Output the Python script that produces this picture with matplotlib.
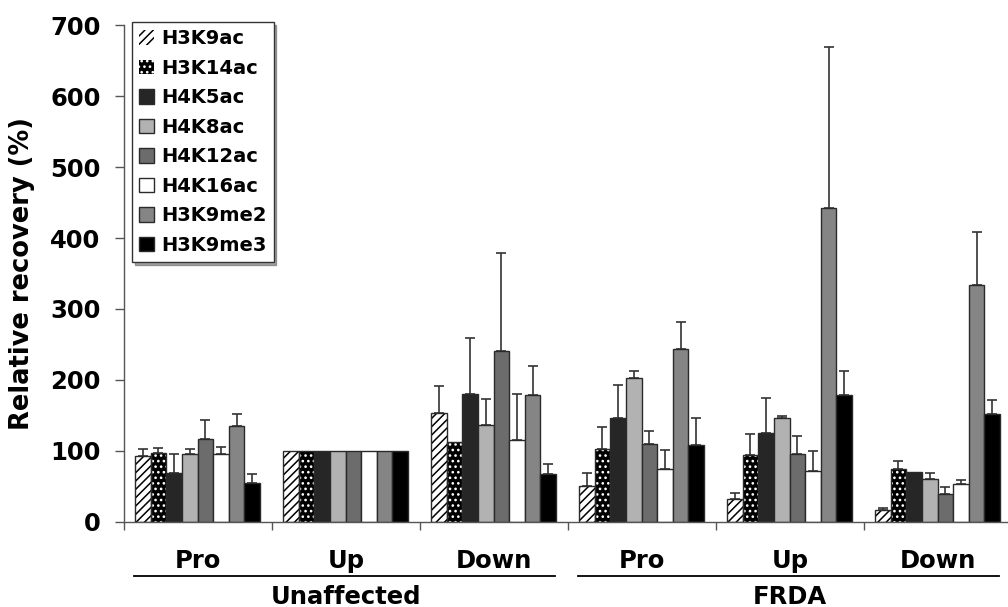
import numpy as np
import matplotlib
matplotlib.use("Agg")
import matplotlib.pyplot as plt
from matplotlib.patches import Rectangle
from matplotlib.lines import Line2D
from matplotlib.transforms import blended_transform_factory

plt.rcParams['font.family'] = ['DejaVu Sans']
plt.rcParams['font.weight'] = 'bold'
plt.rcParams['hatch.linewidth'] = 1.1

# groups along the x axis
regions = ['Pro', 'Up', 'Down', 'Pro', 'Up', 'Down']
conditions = ['Unaffected', 'FRDA']

marks = ['H3K9ac', 'H3K14ac', 'H4K5ac', 'H4K8ac',
         'H4K12ac', 'H4K16ac', 'H3K9me2', 'H3K9me3']

# mean relative recovery (%) per mark, one value per group
H3K9ac = [92, 100, 153, 51, 32, 16]
H3K14ac = [97, 100, 113, 103, 94, 74]
H4K5ac = [68, 100, 180, 146, 125, 70]
H4K8ac = [96, 100, 136, 203, 146, 60]
H4K12ac = [117, 100, 241, 109, 95, 39]
H4K16ac = [96, 100, 115, 75, 72, 53]
H3K9me2 = [135, 100, 178, 244, 443, 334]
H3K9me3 = [55, 100, 67, 108, 178, 152]

# upper error (SD)
H3K9ac_err = [11, 0, 39, 17, 9, 3]
H3K14ac_err = [7, 0, 0, 31, 29, 12]
H4K5ac_err = [28, 0, 79, 47, 49, 0]
H4K8ac_err = [7, 0, 37, 10, 3, 8]
H4K12ac_err = [26, 0, 138, 19, 26, 10]
H4K16ac_err = [10, 0, 65, 26, 28, 6]
H3K9me2_err = [17, 0, 41, 38, 226, 75]
H3K9me3_err = [12, 0, 14, 38, 35, 19]

means = [H3K9ac, H3K14ac, H4K5ac, H4K8ac, H4K12ac, H4K16ac, H3K9me2, H3K9me3]
errs = [H3K9ac_err, H3K14ac_err, H4K5ac_err, H4K8ac_err,
        H4K12ac_err, H4K16ac_err, H3K9me2_err, H3K9me3_err]

# style per mark: facecolor, hatch, hatch colour
styles = [
    ('white', '////', 'black'),
    ('black', '...', 'white'),
    ('#262626', None, None),
    ('#b2b2b2', None, None),
    ('#6c6c6c', None, None),
    ('white', None, None),
    ('#858585', None, None),
    ('black', None, None),
]

edge = '#2a2a2a'

fig = plt.figure(figsize=(10.08, 6.07), dpi=100)
ax = fig.add_axes([124 / 1008, 0.1405, 888 / 1008, 0.8178])

x = np.arange(len(regions))
bw = 0.1056
start = 0.0745

handles = []
for i, (m, e, (fc, hatch, hc)) in enumerate(zip(means, errs, styles)):
    xs = x + start + bw * i + bw / 2
    if hatch is not None:
        ax.bar(xs, m, width=bw, color=fc, edgecolor=hc, hatch=hatch,
               linewidth=0, zorder=2)
        ax.bar(xs, m, width=bw, fill=False, edgecolor=edge, linewidth=1.0,
               zorder=3)
    else:
        ax.bar(xs, m, width=bw, color=fc, edgecolor=edge, linewidth=1.0,
               zorder=2)
    e = np.array(e, dtype=float)
    show = e > 0
    ax.errorbar(xs[show], np.array(m)[show],
                yerr=[np.zeros(show.sum()), e[show]],
                fmt='none', ecolor='#333333', elinewidth=1.2,
                capsize=3.5, capthick=1.2, zorder=1)
    if hatch is not None:
        h = Rectangle((0, 0), 1, 1, facecolor=fc, edgecolor=hc, hatch=hatch,
                      linewidth=0)
    else:
        h = Rectangle((0, 0), 1, 1, facecolor=fc, edgecolor=edge,
                      linewidth=1.0)
    handles.append(h)

ax.set_xlim(0, 6)
ax.set_ylim(0, 700)
ax.set_yticks(range(0, 701, 100))
ax.set_xticks(range(0, 7))
ax.set_xticklabels([])
ax.spines['top'].set_visible(False)
ax.spines['right'].set_visible(False)
for s in ['left', 'bottom']:
    ax.spines[s].set_color('#555555')
    ax.spines[s].set_linewidth(1.0)
ax.tick_params(axis='y', direction='out', length=6.5, width=1.0,
               color='#555555', labelsize=17.5, pad=10.5)
ax.tick_params(axis='x', direction='out', length=6, width=1.0,
               color='#555555')
for t in ax.get_yticklabels():
    t.set_fontweight('bold')
ax.set_ylabel('Relative recovery (%)', fontsize=18.5, fontweight='bold',
              labelpad=11)

trans = blended_transform_factory(ax.transData, fig.transFigure)
for xi, r in zip(x, regions):
    ax.text(xi + 0.5, 0.0643, r, transform=trans, ha='center',
            va='baseline', fontsize=17.5, fontweight='bold')
for k, c in enumerate(conditions):
    x0 = 3 * k
    fig.add_artist(Line2D([x0 + 0.068, x0 + 2.91], [0.0511, 0.0511],
                          transform=trans, color='black', linewidth=1.3))
    ax.text(x0 + 1.5, 0.0049, c, transform=trans, ha='center',
            va='baseline', fontsize=17.5, fontweight='bold')

leg = ax.legend(handles, marks, loc='upper left',
                bbox_to_anchor=(132 / 1008, 1 - 22 / 607),
                bbox_transform=fig.transFigure, borderaxespad=0,
                fancybox=False, shadow=True, framealpha=1,
                edgecolor='#333333',
                prop={'weight': 'bold', 'size': 14},
                handlelength=0.75, handleheight=0.75, handletextpad=0.35,
                labelspacing=0.54, borderpad=0.38)
leg.get_frame().set_linewidth(1.0)

fig.savefig('out.png', dpi=100)
